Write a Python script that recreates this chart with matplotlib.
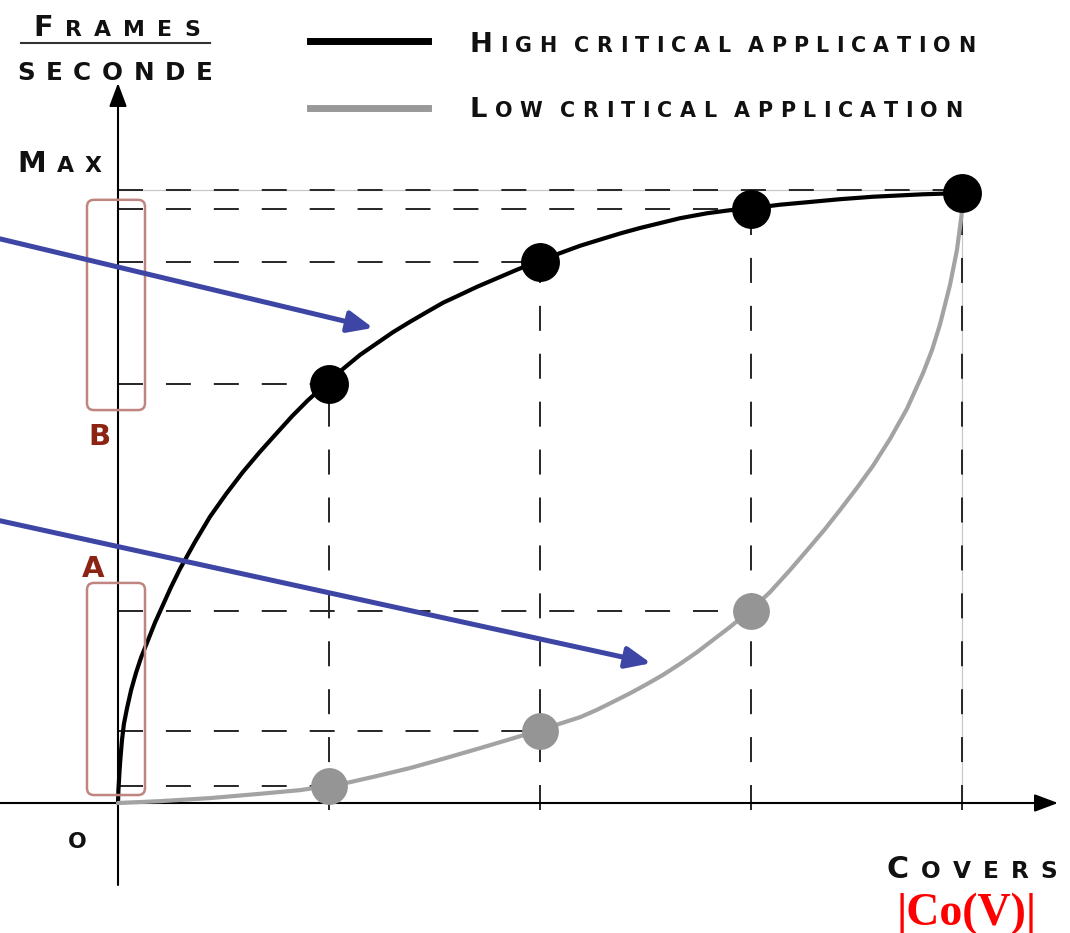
import matplotlib.pyplot as plt
from matplotlib.patches import FancyBboxPatch
from matplotlib.transforms import IdentityTransform

plt.rcParams['lines.scale_dashes'] = False

# covers on x, frames/second normalised so that Max = 1
covers = [1, 2, 3, 4]
high_fps = [0.683, 0.882, 0.969, 0.995]
low_fps = [0.028, 0.118, 0.313, 0.995]
fps_max = 1.0

# curve traces
high_curve_x = [0, 0.002, 0.007, 0.012, 0.019, 0.028, 0.043, 0.062, 0.085, 0.109,
                0.137, 0.175, 0.213, 0.251, 0.294, 0.365, 0.436, 0.512, 0.592,
                0.673, 0.754, 0.825, 0.900, 0.981, 1.066, 1.147, 1.227, 1.303,
                1.384, 1.464, 1.540, 1.621, 1.701, 1.796, 1.891, 2.0, 2.095, 2.190,
                2.284, 2.379, 2.474, 2.569, 2.664, 2.791, 2.900, 3.0, 3.137, 3.265,
                3.422, 3.578, 3.815, 4.0]
high_curve_y = [0, 0.021, 0.051, 0.075, 0.103, 0.129, 0.155, 0.184, 0.212, 0.237,
                0.261, 0.294, 0.323, 0.352, 0.382, 0.426, 0.467, 0.504, 0.540,
                0.573, 0.604, 0.631, 0.657, 0.682, 0.708, 0.731, 0.750, 0.768,
                0.785, 0.801, 0.816, 0.829, 0.842, 0.856, 0.870, 0.885, 0.897, 0.909,
                0.919, 0.929, 0.938, 0.946, 0.954, 0.962, 0.967, 0.970, 0.976, 0.980,
                0.985, 0.989, 0.993, 0.995]
low_curve_x = [0, 0.199, 0.436, 0.673, 0.863, 1.0, 1.100, 1.227, 1.384, 1.540, 1.701,
               1.858, 2.0, 2.109, 2.190, 2.270, 2.346, 2.427, 2.507, 2.583, 2.664,
               2.744, 2.820, 2.900, 3.0, 3.090, 3.185, 3.265, 3.351, 3.422, 3.502,
               3.578, 3.659, 3.739, 3.815, 3.858, 3.896, 3.943, 3.976, 3.998, 4.0]
low_curve_y = [0, 0.003, 0.008, 0.015, 0.021, 0.028, 0.034, 0.044, 0.057, 0.072, 0.088,
               0.104, 0.119, 0.131, 0.140, 0.152, 0.165, 0.179, 0.194, 0.209, 0.227,
               0.246, 0.266, 0.287, 0.315, 0.344, 0.380, 0.412, 0.447, 0.478, 0.514,
               0.550, 0.594, 0.643, 0.701, 0.739, 0.781, 0.845, 0.902, 0.959, 0.984]

W, H = 1070, 933
X0, Y0, SX, SY = 118, 803, 211, 613   # origin pixel and pixels per unit

fig = plt.figure(figsize=(W / 100, H / 100), dpi=100)
ax = fig.add_axes([0, 0, 1, 1])
ax.set_xlim(-X0 / SX, (W - X0) / SX)
ax.set_ylim(-(H - Y0) / SY, Y0 / SY)
ax.axis('off')

dash = (0, (18, 16.5))
dcol = '#262626'

# guide lines
for x, y in zip(covers[:3], high_fps[:3]):
    ax.plot([0, x], [y, y], ls=dash, color=dcol, lw=1.4, zorder=1)
for x, y in zip(covers[:3], low_fps[:3]):
    ax.plot([0, x], [y, y], ls=dash, color=dcol, lw=1.4, zorder=1)
for x, y in zip(covers, high_fps):
    ax.plot([x, x], [-0.012, y], ls=dash, color=dcol, lw=1.4, zorder=1)
ax.plot([0, covers[-1]], [fps_max, fps_max], color='#c8c8c8', lw=0.9, zorder=0.5)
ax.plot([0, covers[-1]], [fps_max, fps_max], ls=dash, color=dcol, lw=1.4, zorder=1)
ax.plot([covers[-1], covers[-1]], [0, fps_max], color='#c8c8c8', lw=0.9, zorder=0.5)

# axes with arrow heads
axis_arrow = dict(arrowstyle='-|>,head_length=1.44,head_width=0.54', mutation_scale=10,
                  lw=1.5, color='black', shrinkA=0, shrinkB=0)
ax.annotate('', xy=((1058 - X0) / SX, 0), xytext=(-X0 / SX - 0.01, 0),
            arrowprops=axis_arrow, zorder=2)
ax.annotate('', xy=(0, (Y0 - 83) / SY), xytext=(0, (Y0 - 885) / SY),
            arrowprops=axis_arrow, zorder=2)

# curves and points
ax.plot(high_curve_x, high_curve_y, color='black', lw=3, zorder=3,
        solid_capstyle='round', solid_joinstyle='round')
ax.plot(low_curve_x, low_curve_y, color='#a3a3a3', lw=3, zorder=3,
        solid_capstyle='round', solid_joinstyle='round')
ax.plot(covers[:3], low_fps[:3], 'o', color='#959595', ms=26.5, mec='none', zorder=4)
ax.plot(covers, high_fps, 'o', color='black', ms=28, mec='none', zorder=4)

# A / B ranges
box_kw = dict(boxstyle='round,pad=0,rounding_size=0.033', mutation_aspect=SX / SY,
              fc='none', ec='#bf8580', lw=1.8, zorder=5)
ax.add_patch(FancyBboxPatch((-0.147, 0.641), 0.275, 0.343, **box_kw))
ax.add_patch(FancyBboxPatch((-0.147, 0.013), 0.275, 0.346, **box_kw))

# blue pointers
blue_arrow = dict(arrowstyle='-|>,head_length=1.5,head_width=0.65', mutation_scale=10,
                  lw=3.6, color='#3d45a5', shrinkA=0, shrinkB=0)
ax.annotate('', xy=(1.209, 0.775), xytext=(-0.58, 0.922), arrowprops=blue_arrow, zorder=6)
ax.annotate('', xy=(2.526, 0.228), xytext=(-0.58, 0.462), arrowprops=blue_arrow, zorder=6)

# texts (pixel positions, y from top)
renderer = fig.canvas.get_renderer()


def small_caps(text, x0, x1, base, cap_big, cap_small, color='#111111'):
    fs_big = cap_big / 0.729 * 0.72
    fs_small = cap_small / 0.729 * 0.72
    items = []
    for ch in text:
        size = fs_big if ch.isupper() else fs_small
        t = fig.text(0, 0, ch.upper(), fontsize=size, fontweight='bold',
                     family='DejaVu Sans', color=color, transform=IdentityTransform(),
                     ha='left', va='baseline')
        if ch == ' ':
            w = 0.15 * size * 100 / 72
        else:
            w = t.get_window_extent(renderer).width
        items.append((t, w))
    gap = 0 if len(items) < 2 else (x1 - x0 - sum(w for _, w in items)) / (len(items) - 1)
    x = x0
    for t, w in items:
        t.set_position((x, H - base))
        x += w + gap


small_caps('Frames', 33, 200, 36, 21, 16)
small_caps('seconde', 17, 213, 80, 18, 18)
small_caps('Max', 17, 102, 172, 21, 16)
small_caps('O', 68, 90, 848, 16, 16)
small_caps('Covers', 887, 1057, 878, 22, 17)
small_caps('High critical application', 470, 975, 52, 20, 15)
small_caps('Low critical application', 470, 962, 117, 20, 15)

fig.add_artist(plt.Line2D([21, 210], [H - 43, H - 43], color='#333333', lw=1.5,
                          transform=IdentityTransform()))
fig.add_artist(plt.Line2D([310, 428], [H - 41, H - 41], color='black', lw=5,
                          transform=IdentityTransform()))
fig.add_artist(plt.Line2D([310, 428], [H - 108, H - 108], color='#999999', lw=5,
                          transform=IdentityTransform()))

fig.text(99, H - 445, 'B', fontsize=21, fontweight='bold', color='#8c2313',
         ha='center', va='baseline', transform=IdentityTransform())
fig.text(93, H - 577, 'A', fontsize=21, fontweight='bold', color='#8c2313',
         ha='center', va='baseline', transform=IdentityTransform())
fig.text(967, H - 925, '|Co(V)|', fontsize=33, fontweight='bold', color='red',
         family='Liberation Serif', ha='center', va='baseline',
         transform=IdentityTransform())

fig.savefig('out.png', dpi=100)
